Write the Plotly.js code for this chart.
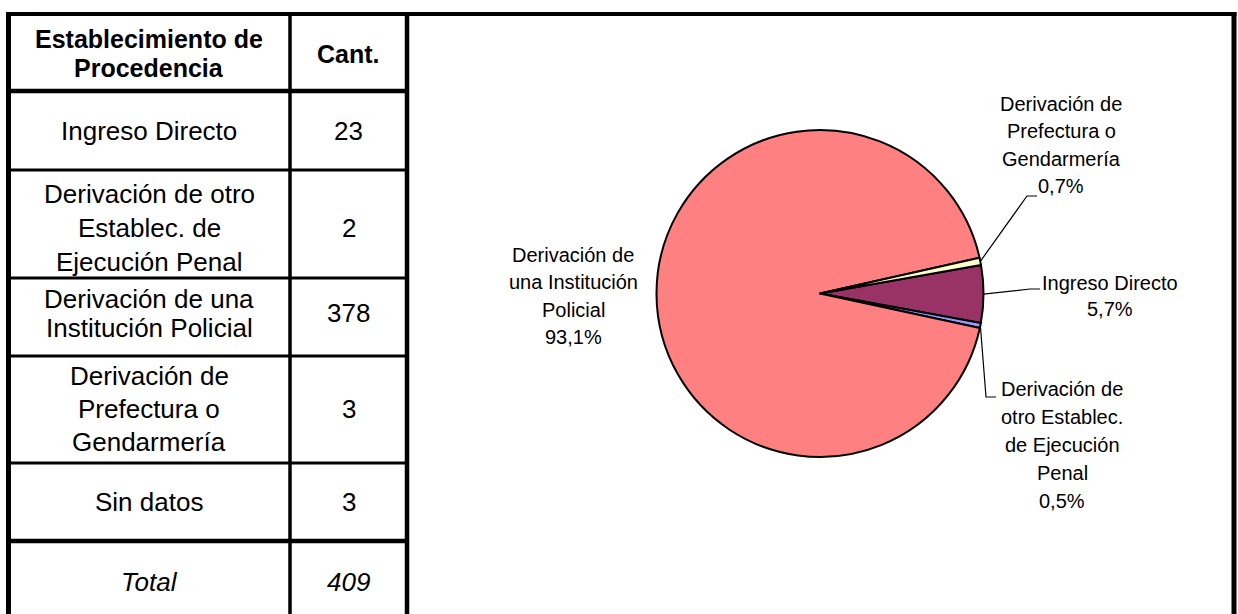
<!DOCTYPE html>
<html>
<head>
<meta charset="utf-8">
<script src="https://cdn.plot.ly/plotly-3.0.1.min.js"></script>
<style>
  html, body { margin: 0; padding: 0; background: #fff; }
  #chart { width: 1238px; height: 614px; }
</style>
</head>
<body>
<div id="chart"></div>
<script>
// ---------------- DATA ----------------
const headerLabels = ['Establecimiento de<br>Procedencia', 'Cant.'];
const tableLabels = [
  'Ingreso Directo',
  'Derivación de otro<br>Establec. de<br>Ejecución Penal',
  'Derivación de una<br>Institución Policial',
  'Derivación de<br>Prefectura o<br>Gendarmería',
  'Sin datos'
];
const counts = [23, 2, 378, 3, 3];
const totalLabel = 'Total';

// pie (excludes "Sin datos")
const pieLabels = [
  'Ingreso Directo',
  'Derivación de<br>otro Establec.<br>de Ejecución<br>Penal',
  'Derivación de<br>una Institución<br>Policial',
  'Derivación de<br>Prefectura o<br>Gendarmería'
];
const pieValues = [23, 2, 378, 3];
const pieColors = ['#993366', '#9999FF', '#FF8080', '#FFFFCC'];

// ---------------- LAYOUT CONSTANTS ----------------
const W = 1238, H = 614;
const px = x => x / W;
const py = y => 1 - y / H;
const FONT = 'Liberation Sans, Arial, sans-serif';

const colX = [8.5, 290, 407];            // table column borders
const rightX = 1234;                     // chart box right border
const rowY = [14, 91, 170, 278, 356, 463, 541, 623]; // row borders (last is off-image)
const rowTextOffset = [1, 0, 4, -4, -1, 0, 0];
const rowSpacing = [29, 33, 34, 29, 33, 33, 33];

const pieCx = 820, pieCy = 293.5, pieR = 163.5, pieRotation = 80;

// label blocks: center x, center y, line spacing, and leader elbow (null = no leader)
const pieLabelPos = [
  {x: 1110, y: 296, sp: 26, elbow: [1030, 289], end: [1040, 289]},
  {x: 1062, y: 445, sp: 28, elbow: [986, 397], end: [996, 397]},
  {x: 573,  y: 296, sp: 27.5, elbow: null},
  {x: 1061, y: 145, sp: 27.3, elbow: [1027, 196], end: [1037, 196]}
];

// ---------------- BUILD ----------------
const shapes = [];
const annotations = [];

function hline(y, x0, x1, w) {
  shapes.push({type: 'line', xref: 'paper', yref: 'paper',
    x0: px(x0), x1: px(x1), y0: py(y), y1: py(y),
    line: {color: '#000', width: w}});
}
function vline(x, y0, y1, w) {
  shapes.push({type: 'line', xref: 'paper', yref: 'paper',
    x0: px(x), x1: px(x), y0: py(y0), y1: py(y1),
    line: {color: '#000', width: w}});
}
function textBlock(text, cx, cy, spacing, font) {
  const lines = text.split('<br>');
  const n = lines.length;
  lines.forEach((ln, i) => {
    const y = cy + (i - (n - 1) / 2) * spacing;
    annotations.push({xref: 'paper', yref: 'paper', x: px(cx), y: py(y),
      xanchor: 'center', yanchor: 'middle', showarrow: false,
      text: ln, font: font});
  });
}

// table + chart box borders
hline(14, colX[0] - 2.5, rightX + 2.5, 4);
vline(colX[0], 12, H + 5, 5);
vline(colX[1], 14, H + 5, 3.5);
vline(colX[2], 14, H + 5, 4.5);
vline(rightX, 12, H + 5, 5);
for (let r = 1; r < rowY.length - 1; r++) {
  const thick = (r === 1 || r === rowY.length - 2);
  hline(rowY[r], colX[0], colX[2], thick ? 4.5 : 3);
}

// table text
const cellFont = {family: FONT, size: 26, color: '#000'};
const headFont = {family: FONT, size: 25, color: '#000', weight: 'bold'};
const italFont = {family: FONT, size: 26, color: '#000', style: 'italic'};
const c0 = (colX[0] + colX[1]) / 2, c1 = (colX[1] + colX[2]) / 2;

function rowCenter(r) { return (rowY[r] + rowY[r + 1]) / 2 + rowTextOffset[r]; }

textBlock('<b>' + headerLabels[0].split('<br>').join('</b><br><b>') + '</b>', c0, rowCenter(0), rowSpacing[0], headFont);
textBlock('<b>' + headerLabels[1] + '</b>', c1, rowCenter(0), rowSpacing[0], headFont);
tableLabels.forEach((lab, i) => {
  textBlock(lab, c0, rowCenter(i + 1), rowSpacing[i + 1], cellFont);
  textBlock(String(counts[i]), c1, rowCenter(i + 1), rowSpacing[i + 1], cellFont);
});
const total = counts.reduce((a, b) => a + b, 0);
textBlock('<i>' + totalLabel + '</i>', c0, rowCenter(6), 33, italFont);
textBlock('<i>' + total + '</i>', c1, rowCenter(6), 33, italFont);

// pie labels and leader lines
const pieTotal = pieValues.reduce((a, b) => a + b, 0);
const labelFont = {family: FONT, size: 20, color: '#000'};
let cum = 0;
pieValues.forEach((v, i) => {
  const midFrac = (cum + v / 2) / pieTotal;
  cum += v;
  const angDeg = pieRotation + 360 * midFrac;       // clockwise from 12 o'clock
  const a = angDeg * Math.PI / 180;
  const sx = pieCx + pieR * Math.sin(a);
  const sy = pieCy - pieR * Math.cos(a);
  const pct = (v / pieTotal * 100).toFixed(1).replace('.', ',') + '%';
  const pos = pieLabelPos[i];
  textBlock(pieLabels[i] + '<br>' + pct, pos.x, pos.y, pos.sp, labelFont);
  if (pos.elbow) {
    shapes.push({type: 'path', xref: 'paper', yref: 'paper',
      path: 'M' + px(sx) + ',' + py(sy) + ' L' + px(pos.elbow[0]) + ',' + py(pos.elbow[1]) +
            ' L' + px(pos.end[0]) + ',' + py(pos.end[1]),
      line: {color: '#000', width: 1.2}});
  }
});

const pieTrace = {
  type: 'pie',
  labels: pieLabels.map(s => s.replace(/<br>/g, ' ')),
  values: pieValues,
  sort: false,
  direction: 'clockwise',
  rotation: pieRotation,
  textinfo: 'none',
  hoverinfo: 'none',
  showlegend: false,
  marker: {colors: pieColors, line: {color: '#000', width: 2}},
  domain: {
    x: [px(pieCx - pieR), px(pieCx + pieR)],
    y: [py(pieCy + pieR), py(pieCy - pieR)]
  }
};

const layout = {
  width: W, height: H,
  margin: {l: 0, r: 0, t: 0, b: 0},
  paper_bgcolor: '#fff',
  plot_bgcolor: '#fff',
  font: {family: FONT, color: '#000'},
  showlegend: false,
  shapes: shapes,
  annotations: annotations
};

Plotly.newPlot('chart', [pieTrace], layout, {staticPlot: true, displayModeBar: false});
</script>
</body>
</html>
